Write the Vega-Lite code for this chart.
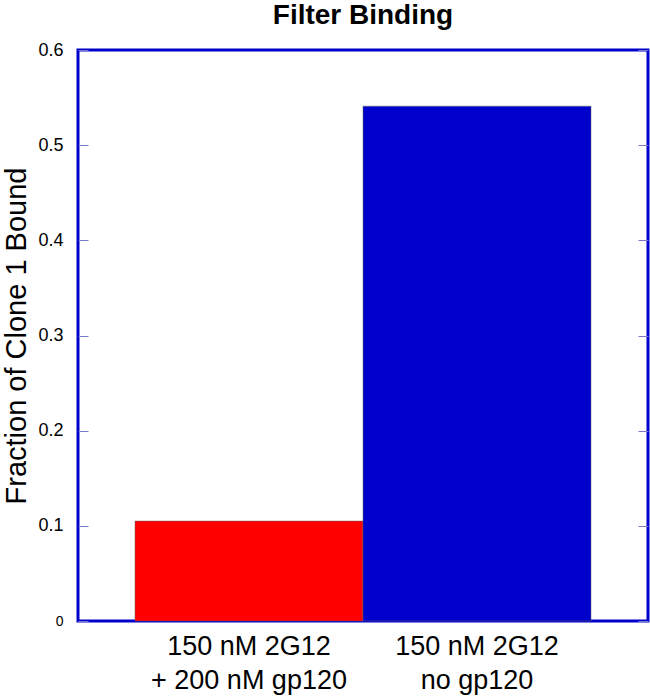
{
  "$schema": "https://vega.github.io/schema/vega-lite/v6.json",
  "width": 570,
  "height": 571,
  "autosize": "none",
  "padding": {"left": 78, "top": 50, "right": 2, "bottom": 75},
  "background": "white",
  "title": {"text": "Filter Binding", "fontSize": 28, "font": "Liberation Sans", "fontWeight": "bold", "color": "black", "anchor": "middle", "frame": "group", "offset": 11},
  "config": {"view": {"stroke": "#0000CC", "strokeWidth": 3}},
  "data": {"values": [
    {"condition": "150 nM 2G12|+ 200 nM gp120", "fraction": 0.105, "color": "red"},
    {"condition": "150 nM 2G12|no gp120", "fraction": 0.541, "color": "blue"}
  ]},
  "encoding": {
    "x": {"field": "condition", "type": "nominal", "sort": null,
      "scale": {"paddingInner": 0, "paddingOuter": 0.25},
      "axis": {"title": null, "labelExpr": "split(datum.label, '|')", "labelAngle": 0, "labelFont": "Liberation Sans", "labelFontSize": 27, "labelLineHeight": 34, "labelLimit": 400, "labelColor": "black", "ticks": false, "domain": false, "labelPadding": 12}
    }
  },
  "layer": [
    {
      "mark": {"type": "bar", "stroke": "#666", "strokeWidth": 0.5},
      "encoding": {
        "y": {"field": "fraction", "type": "quantitative", "scale": {"domain": [0, 0.6], "nice": false},
          "axis": {"title": "Fraction of Clone 1 Bound", "titleFont": "Liberation Sans", "titleFontSize": 29, "titleFontWeight": "normal", "titleColor": "black", "titlePadding": 6,
            "values": [0, 0.1, 0.2, 0.3, 0.4, 0.5, 0.6], "format": "~g", "grid": false, "domain": false,
            "tickSize": -10, "tickColor": "#7777cc", "tickWidth": 1,
            "labelFont": "Liberation Sans", "labelFontSize": {"condition": {"test": "datum.value == 0", "value": 14}, "value": 18}, "labelColor": "black", "labelPadding": 25}},
        "color": {"field": "color", "type": "nominal", "scale": {"domain": ["red", "blue"], "range": ["#FF0000", "#0000CC"]}, "legend": null}
      }
    },
    {
      "mark": {"type": "bar", "opacity": 0},
      "encoding": {
        "y": {"field": "fraction", "type": "quantitative", "scale": {"domain": [0, 0.6], "nice": false},
          "axis": {"orient": "right", "title": null, "labels": false, "grid": false, "domain": false,
            "values": [0, 0.1, 0.2, 0.3, 0.4, 0.5, 0.6], "tickSize": -10, "tickColor": "#7777cc", "tickWidth": 1}}
      }
    }
  ],
  "resolve": {"axis": {"y": "independent"}}
}
